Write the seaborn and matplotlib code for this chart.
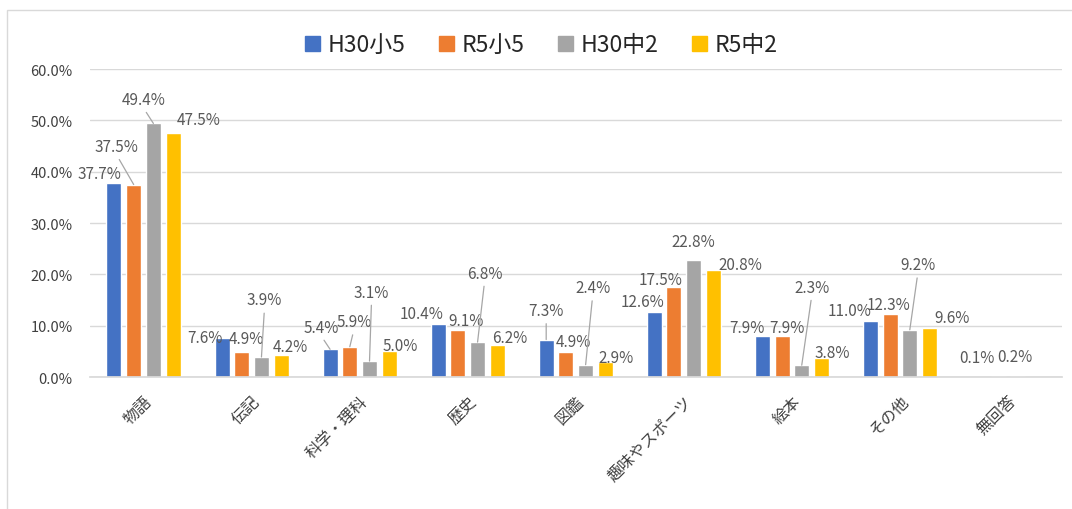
import numpy as np
import pandas as pd
import matplotlib.pyplot as plt
import matplotlib.patches as mpatches
import seaborn as sns

sns.set_theme(style="white")
plt.rcParams['font.family'] = ['Noto Sans CJK JP', 'DejaVu Sans']

# data (percent)
categories = ['物語', '伝記', '科学・理科', '歴史', '図鑑', '趣味やスポーツ', '絵本', 'その他', '無回答']
series = ['H30小5', 'R5小5', 'H30中2', 'R5中2']
h30_sho5 = [37.7, 7.6, 5.4, 10.4, 7.3, 12.6, 7.9, 11.0, np.nan]
r5_sho5 = [37.5, 4.9, 5.9, 9.1, 4.9, 17.5, 7.9, 12.3, 0.1]
h30_chu2 = [49.4, 3.9, 3.1, 6.8, 2.4, 22.8, 2.3, 9.2, 0.2]
r5_chu2 = [47.5, 4.2, 5.0, 6.2, 2.9, 20.8, 3.8, 9.6, np.nan]
yticks = [0, 10, 20, 30, 40, 50, 60]

colors = ['#4472C4', '#ED7D31', '#A5A5A5', '#FFC000']

# label offsets in pixels (dx, dy) from bar top, per series then category
label_offsets = [
    [(-14, 10), (-17, 1), (-9, 22), (-17, 10), (0, 29), (-12, 11), (-15, 9), (-21, 10), None],
    [(-17, 38), (5, 13), (4, 25), (8, 10), (8, 10), (-13, 8), (5, 9), (-2, 9), (-21, 19)],
    [(-10, 24), (3, 57), (2, 69), (7, 69), (7, 77), (0, 18), (10, 78), (8, 65), (-3, 19)],
    [(26, 14), (9, 9), (11, 6), (12, 8), (11, 5), (27, 6), (11, 5), (23, 10), None],
]

df = pd.DataFrame({
    'category': categories * 4,
    'series': sum([[s] * len(categories) for s in series], []),
    'value': h30_sho5 + r5_sho5 + h30_chu2 + r5_chu2,
})

fig = plt.figure(figsize=(10.72, 5.1), dpi=100)
ax = fig.add_axes([0.0835, 0.2588, 0.9072, 0.6039])

sns.barplot(data=df, x='category', y='value', hue='series', hue_order=series,
            order=categories, palette=colors, width=0.73, gap=0.24,
            saturation=1, ax=ax, legend=True)

ax.set_ylim(0, 60)
ax.set_xlim(-0.5, len(categories) - 0.5)
ax.set_yticks(yticks)
ax.set_yticklabels([f'{v:.1f}%' for v in yticks], fontsize=10.5, color='#404040')
ax.yaxis.grid(True, color='#D9D9D9', lw=1)
ax.set_axisbelow(True)
for s in ['top', 'right', 'left']:
    ax.spines[s].set_visible(False)
ax.spines['bottom'].set_color('#D9D9D9')
ax.tick_params(axis='y', length=0, pad=12)
ax.tick_params(axis='x', length=0, pad=11)
ax.set_xlabel('')
ax.set_ylabel('')
for lab in ax.get_xticklabels():
    lab.set_rotation(45)
    lab.set_ha('right')
    lab.set_rotation_mode('anchor')
    lab.set_fontsize(11.5)
    lab.set_color('#404040')

# data labels
for si, cont in enumerate(ax.containers):
    for bar in cont:
        h = bar.get_height()
        if np.isnan(h):
            continue
        xc = bar.get_x() + bar.get_width() / 2
        ci = int(round(xc))
        off = label_offsets[si][ci]
        if off is None:
            continue
        dx, dy = off
        arrow = None
        if dy >= 20:
            arrow = dict(arrowstyle='-', color='#A6A6A6', lw=0.9,
                         shrinkA=1, shrinkB=0, relpos=(0.5, 0.0))
        ax.annotate(f'{h:.1f}%', xy=(xc, h), xytext=(dx, dy),
                    textcoords='offset pixels', ha='center', va='center',
                    fontsize=11, color='#595959', arrowprops=arrow,
                    annotation_clip=False)

ax.legend_.remove()
handles = [mpatches.Patch(color=c, label=s) for c, s in zip(colors, series)]
fig.legend(handles=handles, loc='center', bbox_to_anchor=(0.505, 0.91), ncol=4,
           frameon=False, fontsize=16.5, handlelength=0.65, handleheight=0.65,
           handletextpad=0.35, columnspacing=1.45)

# chart border
fig.patches.append(mpatches.Rectangle((7 / 1072, -0.1), 1.2, 1.1 - 11 / 510,
                                      transform=fig.transFigure, fill=False,
                                      edgecolor='#D9D9D9', lw=1))

fig.savefig('out.png', dpi=100)
